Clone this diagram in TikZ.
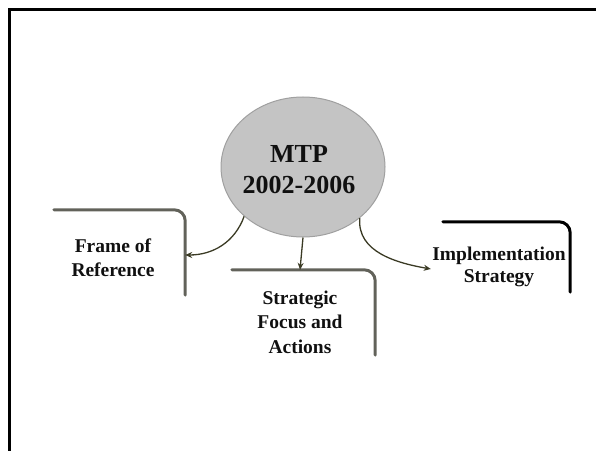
\documentclass[tikz,border=0pt]{standalone}
\usepackage{fontspec}
\setmainfont{Liberation Serif}
\usetikzlibrary{shapes.geometric,arrows.meta}
\definecolor{arrowc}{HTML}{3A3A24}
\definecolor{grayborder}{HTML}{62625A}
\definecolor{ellfill}{HTML}{C4C4C4}
\definecolor{ellline}{HTML}{A0A0A0}
\definecolor{txt}{HTML}{101010}
\tikzset{
  boxtxt/.style={align=center, font=\fontsize{19.5}{24}\selectfont\bfseries, text=txt, inner sep=0pt},
  softborder/.style={draw=grayborder, line width=3pt, rounded corners=11pt, line cap=round},
  hardborder/.style={draw=black, line width=3pt, rounded corners=11pt, line cap=round},
  conn/.style={draw=arrowc, line width=1.3pt, -{Stealth[length=7pt,width=6pt]}},
}
\begin{document}
\begin{tikzpicture}[x=1pt,y=1pt]
\useasboundingbox (0,0) rectangle (596,450);
% page frame
\draw[line width=3pt, line cap=rect] (9,0) -- (9,440) -- (596,440);
% central ellipse
\node[ellipse, fill=ellfill, draw=ellline, line width=1pt, minimum width=164pt, minimum height=140pt, inner sep=0pt] (mtp) at (303,283) {};
\node[align=center, font=\fontsize{26}{31}\selectfont\bfseries, text=txt, inner sep=0pt] (mtptxt) at (299,280) {MTP\\2002-2006};
% boxes (areas)
\node[minimum width=130pt, minimum height=85pt, inner sep=0pt] (frame) at (120,197.5) {};
\node[minimum width=143pt, minimum height=85pt, inner sep=0pt] (strat) at (303.5,137.5) {};
\node[minimum width=127pt, minimum height=70pt, inner sep=0pt] (impl) at (506.5,193) {};
% borders
\draw[softborder] ([xshift=-1pt]frame.north west) -- (frame.north east) -- (frame.south east);
\draw[softborder] (strat.north west) -- (strat.north east) -- (strat.south east);
\draw[hardborder] (impl.north west) -- (impl.north east) -- (impl.south east);
% texts
\node[boxtxt] (frametxt) at (113,192) {Frame of\\Reference};
\node[boxtxt, font=\fontsize{19.5}{24.5}\selectfont\bfseries] (strattxt) at (300,128) {Strategic\\Focus and\\Actions};
\node[boxtxt, font=\fontsize{19.5}{22}\selectfont\bfseries] (impltxt) at (499,183) {Implementation\\Strategy};
% connectors
\draw[conn] (mtp.south) -- ([xshift=-3.5pt]strat.north);
\draw[conn] (mtp.-140) to[out=-110, in=0] ([yshift=-2.5pt]frame.east);
\draw[conn] (mtp.-42) to[out=-95, in=170] ([xshift=-12pt,yshift=-12pt]impl.west);
\end{tikzpicture}
\end{document}
